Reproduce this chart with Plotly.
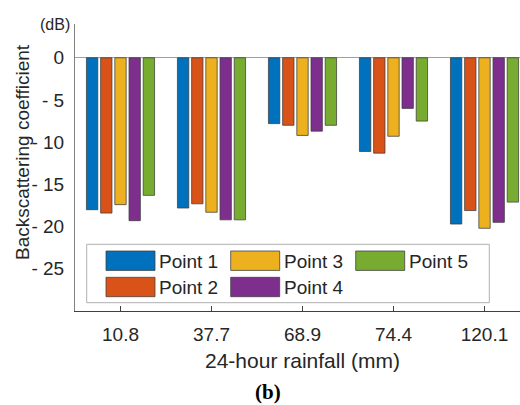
import plotly.graph_objects as go

# ---- data ----
rainfall = ["10.8", "37.7", "68.9", "74.4", "120.1"]
series_names = ["Point 1", "Point 2", "Point 3", "Point 4", "Point 5"]
point1 = [-18.0, -17.8, -7.8, -11.1, -19.7]
point2 = [-18.4, -17.3, -8.0, -11.3, -18.1]
point3 = [-17.4, -18.3, -9.2, -9.3, -20.2]
point4 = [-19.3, -19.2, -8.7, -6.0, -19.5]
point5 = [-16.3, -19.2, -8.0, -7.5, -17.1]
series_values = [point1, point2, point3, point4, point5]
colors = ["#0072BD", "#D95319", "#EDB120", "#7E2F8E", "#77AC30"]
ytick_vals = [0, -5, -10, -15, -20, -25]
ytick_text = ["0", "-\u00a05", "-\u00a010", "-\u00a015", "-\u00a020", "-\u00a025"]

W, H = 520, 405
ML, MR, MT, MB = 75, 0, 24, 94
PW, PH = W - ML - MR, H - MT - MB
FONT = "Liberation Sans, Arial, sans-serif"
TXT = "#262626"


def px(x):
    return (x - ML) / PW


def py(y):
    return (H - MB - y) / PH


fig = go.Figure()
for name, vals, c in zip(series_names, series_values, colors):
    fig.add_trace(go.Bar(
        x=list(range(len(rainfall))), y=vals, name=name,
        marker=dict(color=c, line=dict(color="rgba(60,60,60,0.75)", width=1)),
        showlegend=False,
    ))

# manual legend (MATLAB style, 3 columns, column-major)
shapes = [dict(type="rect", xref="paper", yref="paper",
               x0=px(86.7), x1=px(489.3), y0=py(302.7), y1=py(244.3),
               line=dict(color="#b0b0b0", width=1), fillcolor="white", layer="above")]
annotations = []
col_x = [106, 230.7, 355.7]
row_y = [251, 277.3]
for i, (name, c) in enumerate(zip(series_names, colors)):
    col, row = i // 2, i % 2
    x0 = col_x[col]
    y0 = row_y[row]
    shapes.append(dict(type="rect", xref="paper", yref="paper",
                       x0=px(x0), x1=px(x0 + 49), y0=py(y0 + 19.4), y1=py(y0),
                       line=dict(color="rgba(60,60,60,0.75)", width=1), fillcolor=c, layer="above"))
    annotations.append(dict(xref="paper", yref="paper", x=px(x0 + 51), y=py(y0 + 10),
                            xanchor="left", yanchor="middle", showarrow=False,
                            text=name, font=dict(family=FONT, size=19, color=TXT)))

annotations += [
    dict(xref="paper", yref="paper", x=px(72), y=py(25), xanchor="right", yanchor="middle",
         showarrow=False, text="(dB)", font=dict(family=FONT, size=16, color=TXT)),
    dict(xref="paper", yref="paper", x=px(22), y=py(152), xanchor="center", yanchor="middle",
         showarrow=False, textangle=-90, text="Backscattering coefficient",
         font=dict(family=FONT, size=19, color=TXT)),
    dict(xref="paper", yref="paper", x=px(302), y=py(360), xanchor="center", yanchor="middle",
         showarrow=False, text="24-hour rainfall (mm)", font=dict(family=FONT, size=21, color=TXT)),
    dict(xref="paper", yref="paper", x=px(268), y=py(392), xanchor="center", yanchor="middle",
         showarrow=False, text="<b>(b)</b>",
         font=dict(family="Liberation Serif, Times New Roman, serif", size=21, color="#000")),
]

fig.update_layout(
    width=W, height=H,
    margin=dict(l=ML, r=MR, t=MT, b=MB, pad=0),
    paper_bgcolor="white", plot_bgcolor="white",
    barmode="group", bargap=0.22, bargroupgap=0.2,
    font=dict(family=FONT, size=19, color=TXT),
    xaxis=dict(
        range=[-0.5, -0.5 + PW / 91.0],
        tickmode="array", tickvals=list(range(len(rainfall))), ticktext=rainfall,
        showline=True, linecolor="#404040", linewidth=1,
        ticks="inside", ticklen=5, tickcolor="#404040",
        showgrid=False, zeroline=False,
        ticklabelstandoff=6,
        tickfont=dict(family=FONT, size=19, color=TXT),
    ),
    xaxis2=dict(
        overlaying="x", side="top", anchor="y",
        range=[-0.5, -0.5 + PW / 91.0],
        tickmode="array", tickvals=list(range(len(rainfall))),
        showticklabels=False,
        showline=True, linecolor="#bdbdbd", linewidth=1,
        ticks="inside", ticklen=4, tickcolor="#bdbdbd",
        showgrid=False, zeroline=False,
    ),
    yaxis=dict(
        range=[-30, 4],
        tickmode="array", tickvals=ytick_vals, ticktext=ytick_text,
        showline=True, linecolor="#808080", linewidth=1,
        ticks="", showgrid=False,
        zeroline=True, zerolinecolor="#a0a0a0", zerolinewidth=1,
        ticklabelstandoff=6,
        tickfont=dict(family=FONT, size=19, color=TXT),
    ),
    shapes=shapes,
    annotations=annotations,
)

fig.write_html("out.html")
